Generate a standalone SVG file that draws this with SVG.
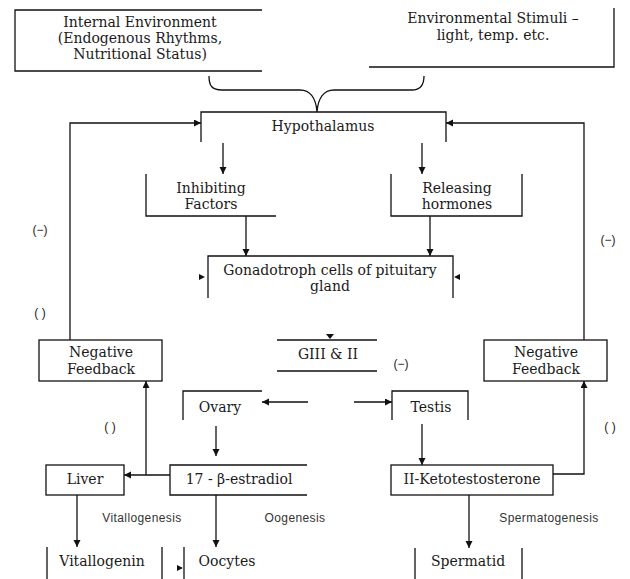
<svg xmlns="http://www.w3.org/2000/svg" width="630" height="579" viewBox="0 0 630 579">
<defs>
<marker id="ah" markerUnits="userSpaceOnUse" markerWidth="8" markerHeight="8" refX="7" refY="3.5" orient="auto">
<path d="M0,0 L7,3.5 L0,7 Z" fill="#111"/>
</marker>
<style>
.ln{fill:none;stroke:#111;stroke-width:1.3}
.cn{fill:none;stroke:#111;stroke-width:1.3}
.ar{marker-end:url(#ah)}
.t{font-family:"DejaVu Serif","Liberation Serif",serif;font-size:14px;fill:#1a1a1a;text-anchor:middle;dominant-baseline:central}
.s{font-family:"Liberation Sans","DejaVu Sans",sans-serif;font-size:12px;letter-spacing:0.4px;fill:#333;text-anchor:middle;dominant-baseline:central}
.m{font-family:"Liberation Sans","DejaVu Sans",sans-serif;font-size:12px;fill:#222;text-anchor:middle;dominant-baseline:central}
.hd{fill:#111}
</style>
</defs>
<rect width="630" height="579" fill="#fff"/>
<g id="internal">
<path class="ln" d="M262,10 H15 V71 H262"/>
<text class="t" x="140" y="22">Internal Environment</text>
<text class="t" x="140" y="38">(Endogenous Rhythms,</text>
<text class="t" x="140" y="54">Nutritional Status)</text>
</g>
<g id="env">
<path class="ln" d="M369,67 H614 V8"/>
<text class="t" x="493" y="18">Environmental Stimuli –</text>
<text class="t" x="493" y="35">light, temp. etc.</text>
</g>
<g id="hypothalamus">
<path class="ln" d="M201,142 V112 H446 V142"/>
<text class="t" x="323" y="126">Hypothalamus</text>
</g>
<g id="inhibiting">
<path class="ln" d="M146,174 V216 H276"/>
<text class="t" x="211" y="188">Inhibiting</text>
<text class="t" x="211" y="204">Factors</text>
</g>
<g id="releasing">
<path class="ln" d="M391,174 V216 H522 V174"/>
<text class="t" x="457" y="188">Releasing</text>
<text class="t" x="457" y="204">hormones</text>
</g>
<g id="gonadotroph">
<path class="ln" d="M208,298 V256 H453 V298"/>
<text class="t" x="330" y="270">Gonadotroph cells of pituitary</text>
<text class="t" x="330" y="286">gland</text>
</g>
<g id="gth">
<path class="ln" d="M277,340 H377 M277,371 H377"/>
<text class="t" x="328" y="354">GIII &amp; II</text>
</g>
<g id="nf-left">
<rect class="ln" x="39" y="340" width="123" height="41"/>
<text class="t" x="101" y="352">Negative</text>
<text class="t" x="101" y="369">Feedback</text>
</g>
<g id="nf-right">
<rect class="ln" x="484" y="340" width="123" height="41"/>
<text class="t" x="546" y="352">Negative</text>
<text class="t" x="546" y="369">Feedback</text>
</g>
<g id="ovary">
<path class="ln" d="M183,420 V391 H262"/>
<text class="t" x="220" y="407">Ovary</text>
</g>
<g id="testis">
<path class="ln" d="M392,420 V391 H468 V420"/>
<text class="t" x="431" y="407">Testis</text>
</g>
<g id="liver">
<rect class="ln" x="46" y="465" width="78" height="30"/>
<text class="t" x="85" y="479">Liver</text>
</g>
<g id="estradiol">
<path class="ln" d="M307,465 H170 V495 H307"/>
<text class="t" x="239" y="479">17 - β-estradiol</text>
</g>
<g id="keto">
<rect class="ln" x="391" y="465" width="162" height="30"/>
<text class="t" x="472" y="479">II-Ketotestosterone</text>
</g>
<g id="vitallogenin">
<path class="ln" d="M47,547 V579 M162,547 V579"/>
<text class="t" x="102" y="561">Vitallogenin</text>
</g>
<g id="oocytes">
<path class="ln" d="M184,547 V579"/>
<text class="t" x="227" y="561">Oocytes</text>
</g>
<g id="spermatid">
<path class="ln" d="M415,548 V579 M522,548 V579"/>
<text class="t" x="468" y="561">Spermatid</text>
</g>
<g id="connectors">
<path class="cn" d="M209,76 C209,86 212,90 222,90 L300,90 C310,90 316,98 317,112 C318,98 324,90 334,90 L412,90 C420,90 424,86 424,76"/>
<path class="cn ar" d="M70,340 V123 H201"/>
<path class="cn ar" d="M584,340 V123 H446"/>
<path class="cn ar" d="M223,143 V174"/>
<path class="cn ar" d="M422,143 V174"/>
<path class="cn ar" d="M246,216 V256"/>
<path class="cn ar" d="M430,216 V256"/>
<path class="cn ar" d="M308,402 H262"/>
<path class="cn ar" d="M354,402 H392"/>
<path class="cn ar" d="M216,426 V456"/>
<path class="cn ar" d="M422,424 V465"/>
<path class="cn ar" d="M170,475 H124"/>
<path class="cn ar" d="M146,475 V381"/>
<path class="cn ar" d="M553,474 H584 V381"/>
<path class="cn ar" d="M77,495 V547"/>
<path class="cn ar" d="M216,495 V547"/>
<path class="cn ar" d="M469,495 V548"/>
<path class="hd" d="M199,274 L205,277 L199,280 Z"/>
<path class="hd" d="M460,274 L454,277 L460,280 Z"/>
<path class="hd" d="M326,334 L334,334 L330,339 Z"/>
<path class="hd" d="M177,565 L183,568 L177,571 Z"/>
</g>
<g id="labels">
<text class="m" x="40" y="230">(−)</text>
<text class="m" x="608" y="240">(−)</text>
<text class="m" x="40" y="313">( )</text>
<text class="m" x="401" y="364">(−)</text>
<text class="m" x="110" y="427">( )</text>
<text class="m" x="610" y="427">( )</text>
<text class="s" x="142" y="518">Vitallogenesis</text>
<text class="s" x="295" y="518">Oogenesis</text>
<text class="s" x="549" y="518">Spermatogenesis</text>
</g>
</svg>
